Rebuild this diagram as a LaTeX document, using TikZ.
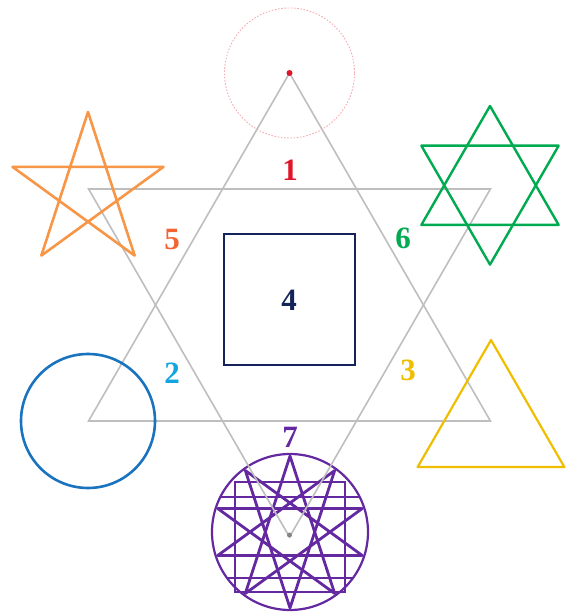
\documentclass[tikz,border=0pt]{standalone}
\usepackage{fontspec}
\setmainfont{Liberation Serif}

\definecolor{hexgrey}{RGB}{190,190,190}
\definecolor{dotred}{RGB}{225,20,40}
\definecolor{starorange}{RGB}{247,150,70}
\definecolor{numorange}{RGB}{242,100,50}
\definecolor{stargreen}{RGB}{0,170,80}
\definecolor{boxnavy}{RGB}{20,35,90}
\definecolor{ringblue}{RGB}{25,115,190}
\definecolor{numblue}{RGB}{20,165,225}
\definecolor{trigold}{RGB}{240,190,0}
\definecolor{sealpurple}{RGB}{100,40,160}

\begin{document}
\begin{tikzpicture}[
  x=1pt, y=1pt,
  hexline/.style={draw=hexgrey, line width=1.6pt},
  figline/.style={line width=2.6pt, line join=round},
  num/.style={font=\bfseries\fontsize{31}{31}\selectfont, inner sep=0pt}
]
\useasboundingbox (0,0) rectangle (572,615);

\coordinate (apex) at (289.5,542);
\coordinate (base) at (289.5,80);

\begin{scope}[shift={(290,83)}, draw=sealpurple]
  \draw[line width=2.2pt] (0,0) circle[radius=78pt];
  \draw[figline, line width=2.8pt] (90:76) -- (234:76) -- (18:76) -- (162:76) -- (306:76) -- cycle;
  \draw[figline, line width=2.8pt] (270:76) -- (54:76) -- (198:76) -- (342:76) -- (126:76) -- cycle;
  \draw[line width=2.4pt] (-55,-60) rectangle (55,50);
  \draw[line width=2.4pt] (-70,35) -- (70,35);
  \draw[line width=2.4pt] (-63,-46) -- (63,-46);
\end{scope}

\draw[hexline, shift={(289.5,310)}] (90:232) -- (210:232) -- (330:232) -- cycle;
\draw[hexline, shift={(289.5,310)}] (270:232) -- (30:232) -- (150:232) -- cycle;
\fill[hexgrey!70!black] (base) circle[radius=2.5pt];

\draw[draw=dotred!35, line width=0.9pt, dash pattern=on 1.6pt off 1.6pt] (apex) circle[radius=65pt];
\fill[dotred] (apex) circle[radius=3pt];

\draw[figline, draw=starorange, shift={(88,423.6)}] (90:79.4) -- (234:79.4) -- (18:79.4) -- (162:79.4) -- (306:79.4) -- cycle;

\draw[figline, draw=stargreen, line width=2.4pt, shift={(490,429.7)}] (90:79.3) -- (210:79.3) -- (330:79.3) -- cycle;
\draw[figline, draw=stargreen, line width=2.4pt, shift={(490,429.7)}] (270:79.3) -- (30:79.3) -- (150:79.3) -- cycle;

\draw[figline, draw=ringblue] (88,194) circle[radius=67pt];

\draw[figline, draw=trigold, line width=2.2pt, shift={(491,190.3)}] (90:84.7) -- (210:84.7) -- (330:84.7) -- cycle;

\node[draw=boxnavy, line width=2pt, minimum size=131pt, num, text=boxnavy] (box) at (289,315) {4};

\node[num, text=dotred] (n1) at (290,445) {1};
\node[num, text=numblue] (n2) at (172,242) {2};
\node[num, text=trigold] (n3) at (408,245) {3};
\node[num, text=numorange] (n5) at (172,375) {5};
\node[num, text=stargreen] (n6) at (403,377) {6};
\node[num, text=sealpurple] (n7) at (290,178) {7};

\end{tikzpicture}
\end{document}
